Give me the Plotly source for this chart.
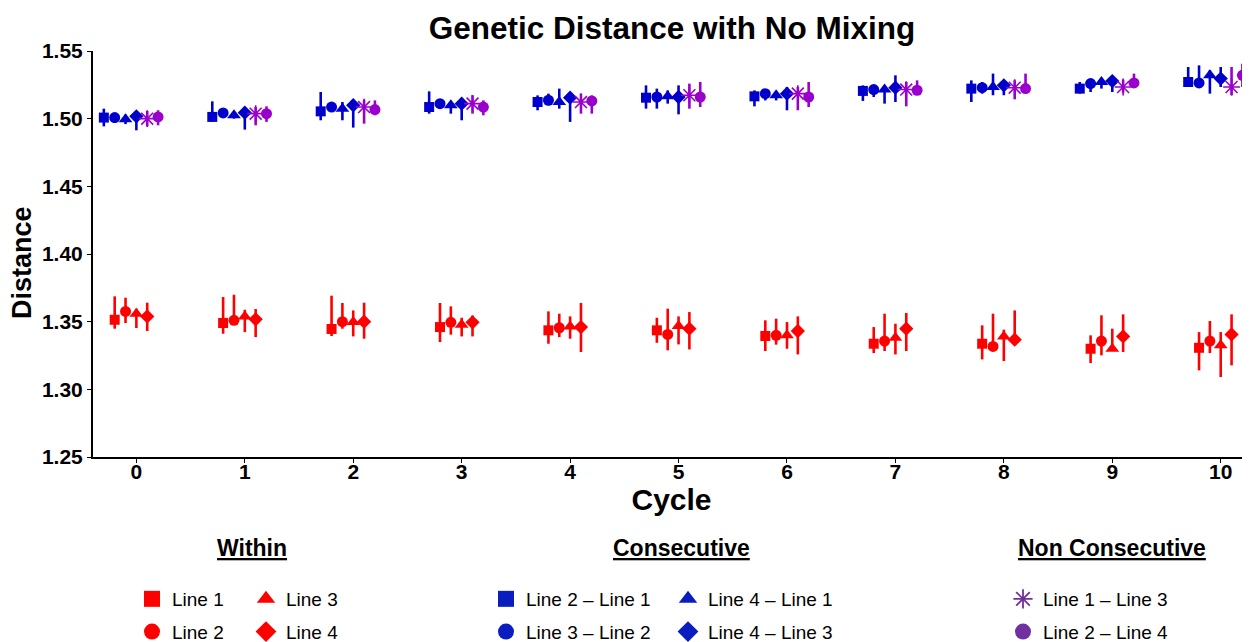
import plotly.graph_objects as go

cycles = [0, 1, 2, 3, 4, 5, 6, 7, 8, 9, 10]
tick_labels = ["0", "1", "2", "3", "4", "5", "6", "7", "8", "9", "10"]

# ---- Within (red) ----
w_line1 = [1.3514, 1.3490, 1.3446, 1.3460, 1.3436, 1.3436, 1.3394, 1.3337, 1.3337, 1.3300, 1.3307]
w_line1_hi = [1.3687, 1.3682, 1.3692, 1.3638, 1.3576, 1.3529, 1.3510, 1.3460, 1.3473, 1.3399, 1.3423]
w_line1_lo = [1.3448, 1.3411, 1.3394, 1.3349, 1.3337, 1.3344, 1.3283, 1.3268, 1.3221, 1.3194, 1.3140]

w_line2 = [1.3576, 1.3510, 1.3500, 1.3495, 1.3455, 1.3406, 1.3399, 1.3357, 1.3317, 1.3357, 1.3357]
w_line2_hi = [1.3677, 1.3699, 1.3638, 1.3613, 1.3559, 1.3596, 1.3522, 1.3559, 1.3559, 1.3547, 1.3505]
w_line2_lo = [1.3490, 1.3480, 1.3448, 1.3404, 1.3386, 1.3288, 1.3330, 1.3283, 1.3283, 1.3251, 1.3268]

w_line3 = [1.3559, 1.3539, 1.3497, 1.3478, 1.3465, 1.3468, 1.3399, 1.3381, 1.3391, 1.3300, 1.3325]
w_line3_hi = [1.3596, 1.3588, 1.3583, 1.3529, 1.3539, 1.3539, 1.3497, 1.3485, 1.3441, 1.3448, 1.3423]
w_line3_lo = [1.3453, 1.3423, 1.3391, 1.3391, 1.3374, 1.3332, 1.3300, 1.3258, 1.3209, 1.3290, 1.3091]

w_line4 = [1.3539, 1.3517, 1.3500, 1.3495, 1.3460, 1.3448, 1.3431, 1.3448, 1.3367, 1.3391, 1.3406]
w_line4_hi = [1.3640, 1.3593, 1.3640, 1.3546, 1.3638, 1.3571, 1.3539, 1.3564, 1.3583, 1.3554, 1.3554]
w_line4_lo = [1.3431, 1.3386, 1.3374, 1.3391, 1.3276, 1.3295, 1.3258, 1.3283, 1.3360, 1.3276, 1.3177]

# ---- Consecutive (blue) ----
c_2_1 = [1.5008, 1.5013, 1.5054, 1.5086, 1.5123, 1.5155, 1.5165, 1.5205, 1.5222, 1.5222, 1.5271]
c_2_1_hi = [1.5074, 1.5128, 1.5197, 1.5202, 1.5172, 1.5246, 1.5209, 1.5246, 1.5283, 1.5271, 1.5382]
c_2_1_lo = [1.4943, 1.4976, 1.4988, 1.5037, 1.5062, 1.5074, 1.5091, 1.5131, 1.5123, 1.5185, 1.5234]

c_3_2 = [1.5008, 1.5042, 1.5086, 1.5111, 1.5136, 1.5160, 1.5185, 1.5215, 1.5229, 1.5259, 1.5264]
c_3_2_hi = [1.5037, 1.5070, 1.5111, 1.5135, 1.5185, 1.5222, 1.5209, 1.5246, 1.5271, 1.5283, 1.5394]
c_3_2_lo = [1.4968, 1.5020, 1.5062, 1.5086, 1.5099, 1.5074, 1.5135, 1.5160, 1.5185, 1.5197, 1.5234]

c_4_1 = [1.4995, 1.5025, 1.5074, 1.5099, 1.5123, 1.5165, 1.5173, 1.5215, 1.5234, 1.5271, 1.5320]
c_4_1_hi = [1.5030, 1.5050, 1.5123, 1.5123, 1.5222, 1.5209, 1.5197, 1.5246, 1.5333, 1.5283, 1.5357]
c_4_1_lo = [1.4960, 1.5000, 1.4988, 1.5037, 1.5074, 1.5111, 1.5135, 1.5111, 1.5173, 1.5222, 1.5185]

c_4_3 = [1.5017, 1.5044, 1.5099, 1.5111, 1.5155, 1.5160, 1.5185, 1.5229, 1.5246, 1.5278, 1.5296]
c_4_3_hi = [1.5049, 1.5074, 1.5123, 1.5135, 1.5185, 1.5246, 1.5234, 1.5320, 1.5283, 1.5296, 1.5382]
c_4_3_lo = [1.4914, 1.4919, 1.4934, 1.4988, 1.4976, 1.5032, 1.5062, 1.5123, 1.5173, 1.5197, 1.5234]

# ---- Non Consecutive (purple) ----
n_1_3 = [1.5000, 1.5037, 1.5086, 1.5111, 1.5123, 1.5173, 1.5185, 1.5215, 1.5229, 1.5234, 1.5234]
n_1_3_hi = [1.5057, 1.5086, 1.5140, 1.5173, 1.5185, 1.5259, 1.5234, 1.5271, 1.5283, 1.5288, 1.5382]
n_1_3_lo = [1.4944, 1.4951, 1.4963, 1.5037, 1.5037, 1.5074, 1.5062, 1.5091, 1.5143, 1.5192, 1.5173]

n_2_4 = [1.5013, 1.5037, 1.5067, 1.5086, 1.5131, 1.5160, 1.5160, 1.5210, 1.5222, 1.5264, 1.5320]
n_2_4_hi = [1.5062, 1.5091, 1.5135, 1.5135, 1.5172, 1.5271, 1.5271, 1.5283, 1.5333, 1.5333, 1.5406]
n_2_4_lo = [1.4951, 1.4976, 1.5025, 1.5025, 1.5037, 1.5086, 1.5086, 1.5185, 1.5197, 1.5234, 1.5234]

RED = "#FF0000"
BLUE = "#0000CC"
PURPLE = "#9900CC"
LEG_BLUE = "#0A1EC0"
LEG_PURPLE = "#7030A0"
FONT = "Liberation Sans, Arial, sans-serif"

fig = go.Figure()


def add(name, y, hi, lo, offset, color, symbol, size, legend, leg_color, open_sym=False):
    xs = [c + offset for c in cycles]
    plus = [h - v for h, v in zip(hi, y)]
    minus = [v - l for v, l in zip(y, lo)]
    marker = dict(symbol=symbol, size=size, color=color)
    if open_sym:
        marker["line"] = dict(color=color, width=1.6)
    fig.add_trace(go.Scatter(
        x=xs, y=y, mode="markers", name=name, marker=marker, showlegend=False,
        error_y=dict(type="data", symmetric=False, array=plus, arrayminus=minus,
                     color=color, thickness=2.6, width=0),
    ))
    # legend entry (larger key symbol, as in the reference legend)
    lmarker = dict(symbol=symbol, size=16, color=leg_color)
    if open_sym:
        lmarker["line"] = dict(color=leg_color, width=1.8)
    fig.add_trace(go.Scatter(
        x=[None], y=[None], mode="markers", name=name, marker=lmarker,
        legend=legend, legendgroup=name, showlegend=True,
    ))


# Within
add("Line 1", w_line1, w_line1_hi, w_line1_lo, -0.2, RED, "square", 10, "legend", RED)
add("Line 2", w_line2, w_line2_hi, w_line2_lo, -0.1, RED, "circle", 11, "legend", RED)
add("Line 3", w_line3, w_line3_hi, w_line3_lo, 0.0, RED, "triangle-up", 12, "legend2", RED)
add("Line 4", w_line4, w_line4_hi, w_line4_lo, 0.1, RED, "diamond", 11, "legend2", RED)
# Consecutive
add("Line 2 – Line 1", c_2_1, c_2_1_hi, c_2_1_lo, -0.3, BLUE, "square", 10, "legend3", LEG_BLUE)
add("Line 3 – Line 2", c_3_2, c_3_2_hi, c_3_2_lo, -0.2, BLUE, "circle", 11, "legend3", LEG_BLUE)
add("Line 4 – Line 1", c_4_1, c_4_1_hi, c_4_1_lo, -0.1, BLUE, "triangle-up", 12, "legend4", LEG_BLUE)
add("Line 4 – Line 3", c_4_3, c_4_3_hi, c_4_3_lo, 0.0, BLUE, "diamond", 11, "legend4", LEG_BLUE)
# Non consecutive
add("Line 1 – Line 3", n_1_3, n_1_3_hi, n_1_3_lo, 0.1, PURPLE, "asterisk-open", 14, "legend5", LEG_PURPLE, open_sym=True)
add("Line 2 – Line 4", n_2_4, n_2_4_hi, n_2_4_lo, 0.2, PURPLE, "circle", 11, "legend5", LEG_PURPLE)

# page body adds an 8px margin; work in screen pixels and convert
PAGE_OFF = 8
FIG_W, FIG_H = 1250 - PAGE_OFF, 642 - PAGE_OFF
plot_l = 93 - PAGE_OFF
plot_top = 51 - PAGE_OFF
plot_bot = 457 - PAGE_OFF
plot_w = FIG_W - plot_l
plot_h = plot_bot - plot_top


def px_x(screen_x):
    return (screen_x - PAGE_OFF - plot_l) / plot_w


def px_y(screen_y):
    return (plot_bot - (screen_y - PAGE_OFF)) / plot_h


legend_common = dict(
    orientation="v", font=dict(family=FONT, size=19, color="black"),
    bgcolor="rgba(0,0,0,0)", tracegroupgap=5, xanchor="left", yanchor="top",
    itemclick=False, itemdoubleclick=False,
)
legend_pos = {"legend": 152, "legend2": 266, "legend3": 506, "legend4": 688, "legend5": 1023}
layout_legends = {}
for key, mx in legend_pos.items():
    d = dict(legend_common)
    d["x"] = px_x(mx - 20)
    d["y"] = px_y(580)
    layout_legends[key] = d

headers = [("Within", 252), ("Consecutive", 682), ("Non Consecutive", 1112)]
annotations = [
    dict(text=f"<b><u>{t}</u></b>", x=px_x(cx), y=px_y(548), xref="paper", yref="paper",
         showarrow=False, font=dict(family=FONT, size=23, color="black"),
         xanchor="center", yanchor="middle")
    for t, cx in headers
]
# y-axis title
annotations.append(dict(text="<b>Distance</b>", x=px_x(22), y=px_y(263), xref="paper", yref="paper",
                        showarrow=False, textangle=-90, font=dict(family=FONT, size=27, color="black"),
                        xanchor="center", yanchor="middle"))

fig.update_layout(
    width=FIG_W, height=FIG_H,
    margin=dict(l=plot_l, r=0, t=plot_top, b=FIG_H - plot_bot, autoexpand=False),
    paper_bgcolor="white", plot_bgcolor="white",
    font=dict(family=FONT, color="black"),
    title=dict(text="<b>Genetic Distance with No Mixing</b>", x=px_x(672), xref="paper", xanchor="center",
               y=1 - 20 / FIG_H, yanchor="middle", font=dict(family=FONT, size=31.5, color="black")),
    xaxis=dict(range=[-0.4, 10.27], tickvals=cycles, ticktext=tick_labels, automargin=False,
               showgrid=False, zeroline=False, showline=True, linecolor="black", linewidth=2,
               ticks="outside", ticklen=4, tickwidth=1, tickcolor="black", ticklabelstandoff=-9,
               tickfont=dict(family=FONT, size=21, color="black", weight="bold"),
               title=dict(text="<b>Cycle</b>", font=dict(family=FONT, size=30, color="black"), standoff=6)),
    yaxis=dict(range=[1.25, 1.55], dtick=0.05, tick0=1.25, tickformat=".2f", automargin=False,
               showgrid=False, zeroline=False, showline=True, linecolor="black", linewidth=2,
               ticks="outside", ticklen=4, tickwidth=1, tickcolor="black",
               tickfont=dict(family=FONT, size=21, color="black", weight="bold")),
    annotations=annotations,
    showlegend=True,
    **layout_legends,
)

fig.write_html("out.html")
